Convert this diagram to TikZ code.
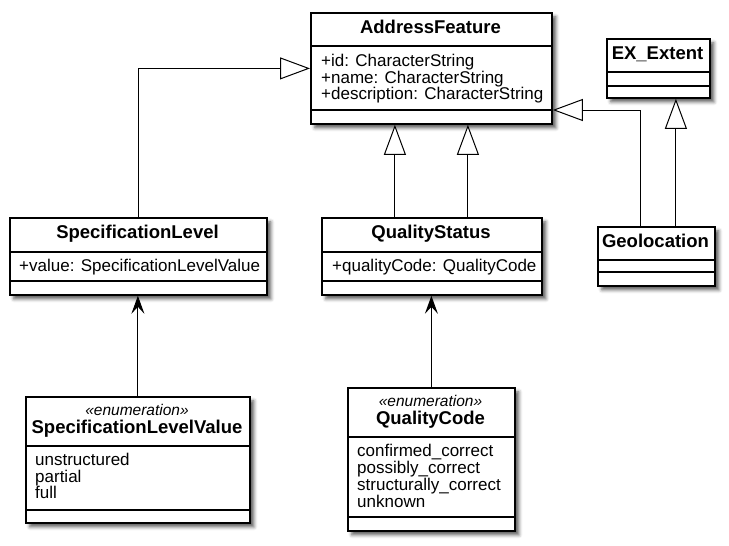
\documentclass[tikz,border=0pt]{standalone}
\usepackage{fontspec}
\setmainfont{Liberation Sans}
\usetikzlibrary{arrows.meta,shadows.blur}
\begin{document}
\begin{tikzpicture}[x=1pt,y=-1pt,
  umlbox/.style={draw, line width=1.8pt, fill=white, inner sep=0pt, anchor=north west,
    blur shadow={shadow xshift=4pt, shadow yshift=-4pt, shadow blur radius=3.5pt, shadow opacity=65}},
  sepline/.style={line width=1.4pt},
  ttl/.style={font=\bfseries\fontsize{18.5}{20}\selectfont, inner sep=0pt, anchor=base},
  att/.style={font=\fontsize{17}{17}\selectfont, inner sep=0pt, anchor=base west},
  ster/.style={font=\itshape\fontsize{15.5}{16}\selectfont, inner sep=0pt, anchor=base},
  gen/.style={line width=1pt, -{Triangle[open, length=30pt, width=22pt, fill=white, line width=1pt]}},
  dep/.style={line width=1pt, -{Stealth[length=18pt, width=13pt, inset=7pt]}}]
\useasboundingbox (0,0) rectangle (729,546);

% boxes
\node[umlbox, minimum width=241pt, minimum height=111pt] (af) at (310,12) {};
\node[umlbox, minimum width=103pt, minimum height=59pt] (ex) at (606,38) {};
\node[umlbox, minimum width=117pt, minimum height=59pt] (geo) at (597,226) {};
\node[umlbox, minimum width=257pt, minimum height=77pt] (sl) at (9,217) {};
\node[umlbox, minimum width=220pt, minimum height=77pt] (qs) at (321,217) {};
\node[umlbox, minimum width=224pt, minimum height=126pt] (slv) at (25,396) {};
\node[umlbox, minimum width=167pt, minimum height=143pt] (qc) at (347,387) {};

% separators
\foreach \n/\a/\b in {af/34/98, ex/34/48, geo/34/46, sl/35/64, qs/35/64, slv/50/114, qc/50/130}{
  \draw[sepline] ([yshift=-\a pt]\n.north west) -- ([yshift=-\a pt]\n.north east);
  \draw[sepline] ([yshift=-\b pt]\n.north west) -- ([yshift=-\b pt]\n.north east);
}

% texts
\node[ttl] (aft) at (430.5,34) {AddressFeature};
\node[att] (afa1) at (321,66) {+id: CharacterString};
\node[att] (afa2) at (321,83) {+name: CharacterString};
\node[att] (afa3) at (321,99) {+description: CharacterString};

\node[ttl] (ext) at (657.5,59) {EX\_Extent};
\node[ttl] (geot) at (655.5,247) {Geolocation};

\node[ttl] (slt) at (137.5,238) {SpecificationLevel};
\node[att] (sla1) at (19,271) {+value: SpecificationLevelValue};

\node[ttl] (qst) at (431,238) {QualityStatus};
\node[att] (qsa1) at (332,271) {+qualityCode: QualityCode};

\node[ster] (slvs) at (137,415) {«enumeration»};
\node[ttl] (slvt) at (137,433) {SpecificationLevelValue};
\node[att] (slv1) at (35,465) {unstructured};
\node[att] (slv2) at (35,482) {partial};
\node[att] (slv3) at (35,498) {full};

\node[ster] (qcs) at (430.5,406) {«enumeration»};
\node[ttl] (qct) at (430.5,424) {QualityCode};
\node[att] (qc1) at (357,456) {confirmed\_correct};
\node[att] (qc2) at (357,473) {possibly\_correct};
\node[att] (qc3) at (357,490) {structurally\_correct};
\node[att] (qc4) at (357,507) {unknown};

% connectors
\coordinate (q1) at ([xshift=-37pt]qs.north);
\coordinate (q2) at ([xshift=36pt]qs.north);
\coordinate (g1) at ([xshift=-15.5pt]geo.north);
\coordinate (g2) at ([xshift=19.5pt]geo.north);
\coordinate (gy) at (0,110);

\draw[gen] (sl.north) |- (af.west);
\draw[gen] (q1) -- (q1 |- af.south);
\draw[gen] (q2) -- (q2 |- af.south);
\draw[gen] (g1) |- (af.east |- gy);
\draw[gen] (g2) -- (g2 |- ex.south);

\draw[dep] (slv.north) -- (slv.north |- sl.south);
\draw[dep] (qc.north) -- (qc.north |- qs.south);
\end{tikzpicture}
\end{document}
